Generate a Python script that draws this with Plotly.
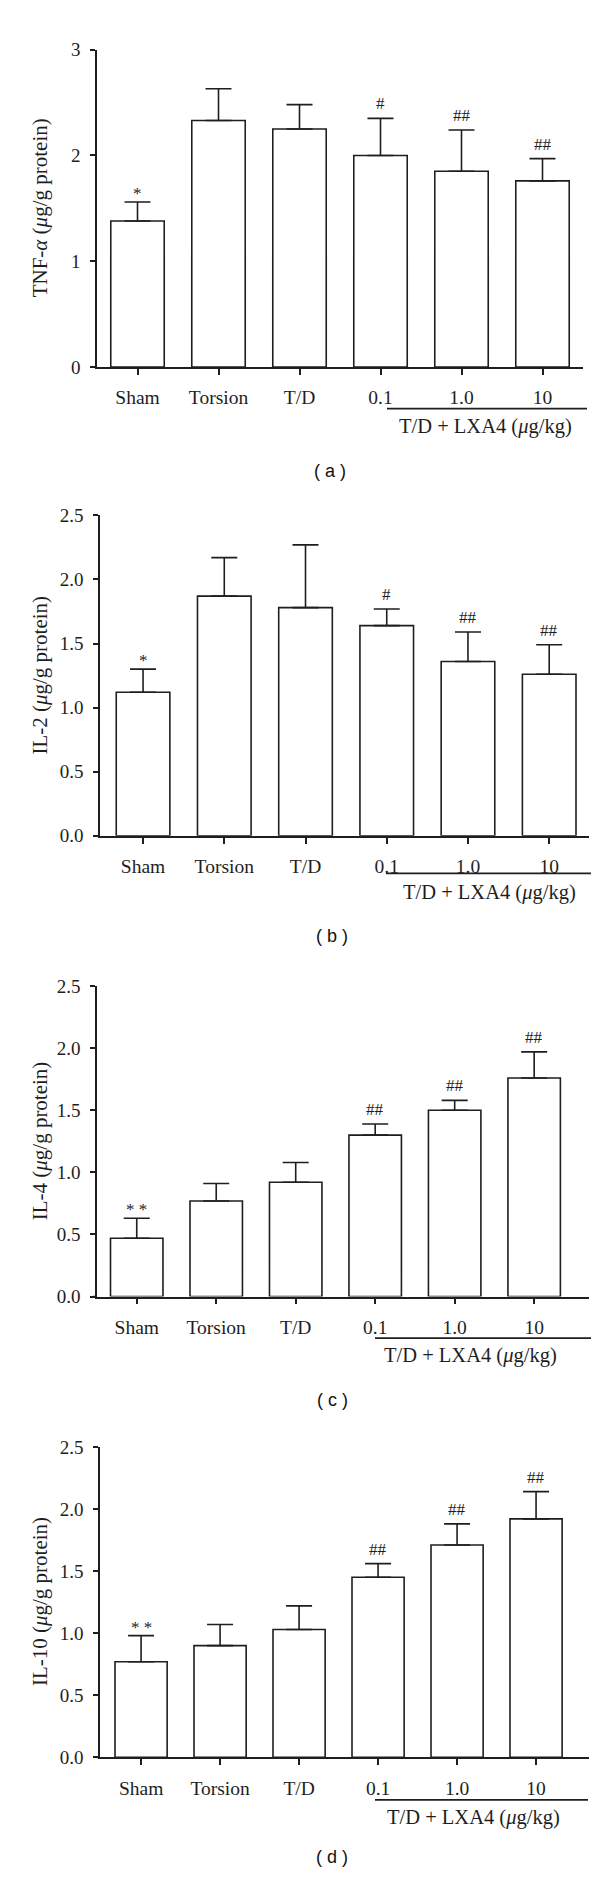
import plotly.graph_objects as go

# ---------------- data ----------------
categories = ["Sham", "Torsion", "T/D", "0.1", "1.0", "10"]

tnf_mean = [1.38, 2.33, 2.25, 2.00, 1.85, 1.76]
tnf_sem = [0.18, 0.30, 0.23, 0.35, 0.39, 0.21]
tnf_sig = ["*", "", "", "#", "##", "##"]

il2_mean = [1.12, 1.87, 1.78, 1.64, 1.36, 1.26]
il2_sem = [0.18, 0.30, 0.49, 0.13, 0.23, 0.23]
il2_sig = ["*", "", "", "#", "##", "##"]

il4_mean = [0.47, 0.77, 0.92, 1.30, 1.50, 1.76]
il4_sem = [0.16, 0.14, 0.16, 0.09, 0.08, 0.21]
il4_sig = ["* *", "", "", "##", "##", "##"]

il10_mean = [0.77, 0.90, 1.03, 1.45, 1.71, 1.92]
il10_sem = [0.21, 0.17, 0.19, 0.11, 0.17, 0.22]
il10_sig = ["* *", "", "", "##", "##", "##"]

y_titles = [
    "TNF-<i>α</i> (<i>μ</i>g/g protein)",
    "IL-2 (<i>μ</i>g/g protein)",
    "IL-4 (<i>μ</i>g/g protein)",
    "IL-10 (<i>μ</i>g/g protein)",
]
group_label = "T/D + LXA4 (<i>μ</i>g/kg)"
panel_labels = ["( a )", "( b )", "( c )", "( d )"]

tnf_ticks = [0, 1, 2, 3]
il_ticks = [0.0, 0.5, 1.0, 1.5, 2.0, 2.5]

# ---------------- layout geometry (pixels) ----------------
W, H = 600, 1881
INK = "#1e1e1e"
SERIF = "Liberation Serif"

def fx(x):
    return x / W

def fy(y):
    return 1 - y / H

geo = [
    dict(xdom=(89, 575), ydom=(32, 353), xr=(-0.5, 5.5), line=(379, 579, 395), lab=(477, 413), plab=(322, 458)),
    dict(xdom=(92, 581), ydom=(503, 827), xr=(-0.53, 5.49), line=(378, 583, 865), lab=(481, 884), plab=(324, 928)),
    dict(xdom=(89, 581), ydom=(979, 1293), xr=(-0.5, 5.69), line=(367, 583, 1335), lab=(463, 1353), plab=(324, 1398)),
    dict(xdom=(92, 581), ydom=(1445, 1759), xr=(-0.52, 5.67), line=(367, 580, 1802), lab=(465, 1820), plab=(324, 1860)),
]

series = [
    (tnf_mean, tnf_sem, tnf_sig, tnf_ticks, [0, 3], "d"),
    (il2_mean, il2_sem, il2_sig, il_ticks, [0, 2.5], ".1f"),
    (il4_mean, il4_sem, il4_sig, il_ticks, [0, 2.5], ".1f"),
    (il10_mean, il10_sem, il10_sig, il_ticks, [0, 2.5], ".1f"),
]

fig = go.Figure()
annotations = []
shapes = []
layout_axes = {}

for i, ((mean, sem, sig, ticks, yr, fmt), g) in enumerate(zip(series, geo)):
    n = i + 1
    xa = "x" if n == 1 else f"x{n}"
    ya = "y" if n == 1 else f"y{n}"
    fig.add_trace(go.Bar(
        x=categories, y=mean, xaxis=xa, yaxis=ya,
        width=0.66,
        marker=dict(color="white", line=dict(color=INK, width=1.6)),
        error_y=dict(type="data", symmetric=False, array=sem,
                     arrayminus=[0] * len(sem), color=INK, thickness=1.6, width=13),
        showlegend=False, hoverinfo="skip",
    ))
    # significance marks (category index positions)
    for j, (m, s, t) in enumerate(zip(mean, sem, sig)):
        if t:
            annotations.append(dict(
                x=j, y=m + s, xref=xa, yref=ya, text=t, showarrow=False,
                yanchor="bottom", yshift=3 if "#" in t else -3,
                font=dict(family=SERIF, size=17, color=INK),
            ))
    key_x = "xaxis" if n == 1 else f"xaxis{n}"
    key_y = "yaxis" if n == 1 else f"yaxis{n}"
    layout_axes[key_x] = dict(
        domain=[fx(g["xdom"][0]), fx(g["xdom"][1])], anchor=ya,
        type="category", range=list(g["xr"]),
        showline=True, linecolor=INK, linewidth=1.6,
        ticks="outside", ticklen=6, tickwidth=1.6, tickcolor=INK,
        showgrid=False, zeroline=False, ticklabelstandoff=6,
        tickfont=dict(family=SERIF, size=19.5, color=INK),
    )
    layout_axes[key_y] = dict(
        domain=[fy(g["ydom"][1]), fy(g["ydom"][0])], anchor=xa,
        range=yr, tickvals=ticks, tickformat=fmt,
        showline=True, linecolor=INK, linewidth=1.6,
        ticks="outside", ticklen=5, tickwidth=1.6, tickcolor=INK,
        showgrid=False, zeroline=False, ticklabelstandoff=6,
        tickfont=dict(family=SERIF, size=19, color=INK),
    )
    # small overhang of the x-axis line to the left of the y axis
    shapes.append(dict(type="line", xref="paper", yref="paper",
                       x0=fx(g["xdom"][0] - 4), x1=fx(g["xdom"][0]),
                       y0=fy(g["ydom"][1]), y1=fy(g["ydom"][1]),
                       line=dict(color=INK, width=1.6)))
    # y-axis title
    annotations.append(dict(
        x=fx(32), y=fy((g["ydom"][0] + g["ydom"][1]) / 2), xref="paper", yref="paper",
        text=y_titles[i], textangle=-90, showarrow=False,
        xanchor="center", yanchor="middle",
        font=dict(family=SERIF, size=21, color=INK),
    ))
    # group bracket line and label
    x0, x1, yl = g["line"]
    shapes.append(dict(type="line", xref="paper", yref="paper",
                       x0=fx(x0), x1=fx(x1), y0=fy(yl), y1=fy(yl),
                       line=dict(color=INK, width=1.6)))
    annotations.append(dict(
        x=fx(g["lab"][0]), y=fy(g["lab"][1]), xref="paper", yref="paper",
        text=group_label, showarrow=False, xanchor="center", yanchor="middle",
        font=dict(family=SERIF, size=20.5, color=INK),
    ))
    annotations.append(dict(
        x=fx(g["plab"][0]), y=fy(g["plab"][1]), xref="paper", yref="paper",
        text=panel_labels[i], showarrow=False, xanchor="center", yanchor="middle",
        font=dict(family="Liberation Sans", size=18, color="#111"),
    ))

fig.update_layout(
    width=W, height=H, autosize=False,
    margin=dict(l=0, r=0, t=0, b=0),
    paper_bgcolor="white", plot_bgcolor="white",
    annotations=annotations, shapes=shapes,
    **layout_axes,
)

fig.write_html("out.html")
